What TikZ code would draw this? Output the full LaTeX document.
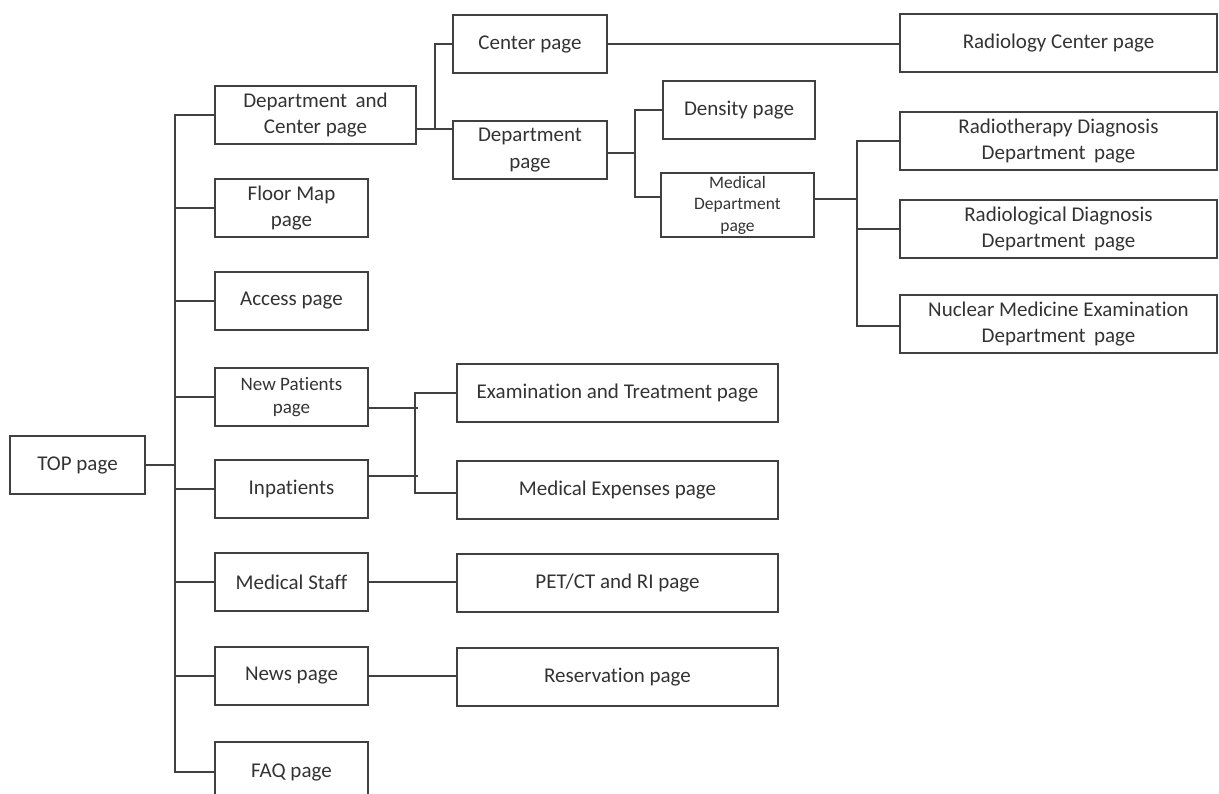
\documentclass[tikz,border=0pt]{standalone}
\usepackage{fontspec}
\setmainfont{Carlito}[Ligatures=NoCommon]
\definecolor{linec}{HTML}{404040}
\definecolor{textc}{HTML}{333333}
\newcommand{\gap}{\hspace{0.4em}}
\begin{document}
\begin{tikzpicture}[x=1pt,y=-1pt,
  box/.style={draw=linec, line width=1.3pt, text=textc, align=center,
    inner sep=0pt, font=\fontsize{21}{26.5}\selectfont},
  small/.style={font=\fontsize{19}{22.5}\selectfont},
  tiny/.style={font=\fontsize{17.5}{21.5}\selectfont},
  narrow/.style={minimum width=153pt, minimum height=58pt},
  wide/.style={minimum width=321pt, minimum height=58pt},
  far/.style={minimum width=317pt, minimum height=58pt},
  wire/.style={draw=linec, line width=1.3pt}]
\useasboundingbox (0,0) rectangle (1219,794);

% root and first level
\node[box, minimum width=135pt, minimum height=58pt] (top) at (77.5,465) {TOP page};
\node[box, minimum width=201pt, minimum height=58pt] (dc) at (315.5,115) {Department\gap and\\Center page};
\node[box, narrow] (floor) at (291.5,208) {Floor Map\\page};
\node[box, narrow] (access) at (291.5,301) {Access page};
\node[box, narrow, small] (newp) at (291.5,397) {New Patients\\page};
\node[box, narrow] (inp) at (291.5,489) {Inpatients};
\node[box, narrow] (staff) at (291.5,582) {Medical Staff};
\node[box, narrow] (news) at (291.5,676) {News page};
\node[box, narrow, minimum height=60pt] (faq) at (291.5,772) {FAQ page};

% second level
\node[box, minimum width=154pt, minimum height=58pt] (center) at (530,44) {Center page};
\node[box, minimum width=154pt, minimum height=58pt] (dept) at (530,150) {Department\\page};
\node[box, wide] (exam) at (617.5,393) {Examination and Treatment page};
\node[box, wide] (exp) at (617.5,490) {Medical Expenses page};
\node[box, wide] (pet) at (617.5,583) {PET/CT and RI page};
\node[box, wide] (res) at (617.5,677) {Reservation page};

% third level
\node[box, minimum width=152pt, minimum height=58pt] (density) at (739,110) {Density page};
\node[box, tiny, minimum width=153pt, minimum height=64pt] (md) at (737.5,205) {Medical\\Department\\page};

% leaf pages on the right
\node[box, far] (rc) at (1058.5,43) {Radiology Center page};
\node[box, far] (rt) at (1058.5,141) {Radiotherapy Diagnosis\\Department\gap page};
\node[box, far] (rd) at (1058.5,229) {Radiological Diagnosis\\Department\gap page};
\node[box, far] (nm) at (1058.5,324) {Nuclear Medicine Examination\\Department\gap page};

% trunk from the root
\coordinate (tk) at (175,0);
\draw[wire] (top.east) -- (top.east -| tk);
\draw[wire] (dc.west) -- (dc.west -| tk) -- (faq.west -| tk) -- (faq.west);
\foreach \n in {floor,access,newp,inp,staff,news}
  \draw[wire] (\n.west -| tk) -- (\n.west);

% department and center branches
\coordinate (f1) at (435,0);
\draw[wire] ([yshift=-14pt]dc.east) -- ([yshift=-14pt]dc.east -| dept.west);
\draw[wire] ([yshift=-14pt]dc.east -| f1) |- (center.west);
\draw[wire] (center.east) -- (center.east -| rc.west);

% department branches
\coordinate (f2) at (635,0);
\draw[wire] ([yshift=-3pt]dept.east) -- ([yshift=-3pt]dept.east -| f2);
\draw[wire] (density.west) -- (density.west -| f2) |- ([yshift=8pt]md.west);

% medical department branches
\coordinate (f3) at (857,0);
\draw[wire] ([yshift=6pt]md.east) -- ([yshift=6pt]md.east -| f3);
\draw[wire] (rt.west) -- (rt.west -| f3) -- ([yshift=-2pt]nm.west -| f3) -- ([yshift=-2pt]nm.west);
\draw[wire] (rd.west -| f3) -- (rd.west);

% patients branches
\coordinate (f4) at (415,0);
\draw[wire] (exam.west) -- (exam.west -| f4) -- ([yshift=-3pt]exp.west -| f4) -- ([yshift=-3pt]exp.west);
\draw[wire] ([yshift=-11pt]newp.east) -- ++(49,0);
\draw[wire] ([yshift=13pt]inp.east) -- ++(49,0);

% single links
\draw[wire] (staff.east) -- (staff.east -| pet.west);
\draw[wire] (news.east) -- (news.east -| res.west);
\end{tikzpicture}
\end{document}
